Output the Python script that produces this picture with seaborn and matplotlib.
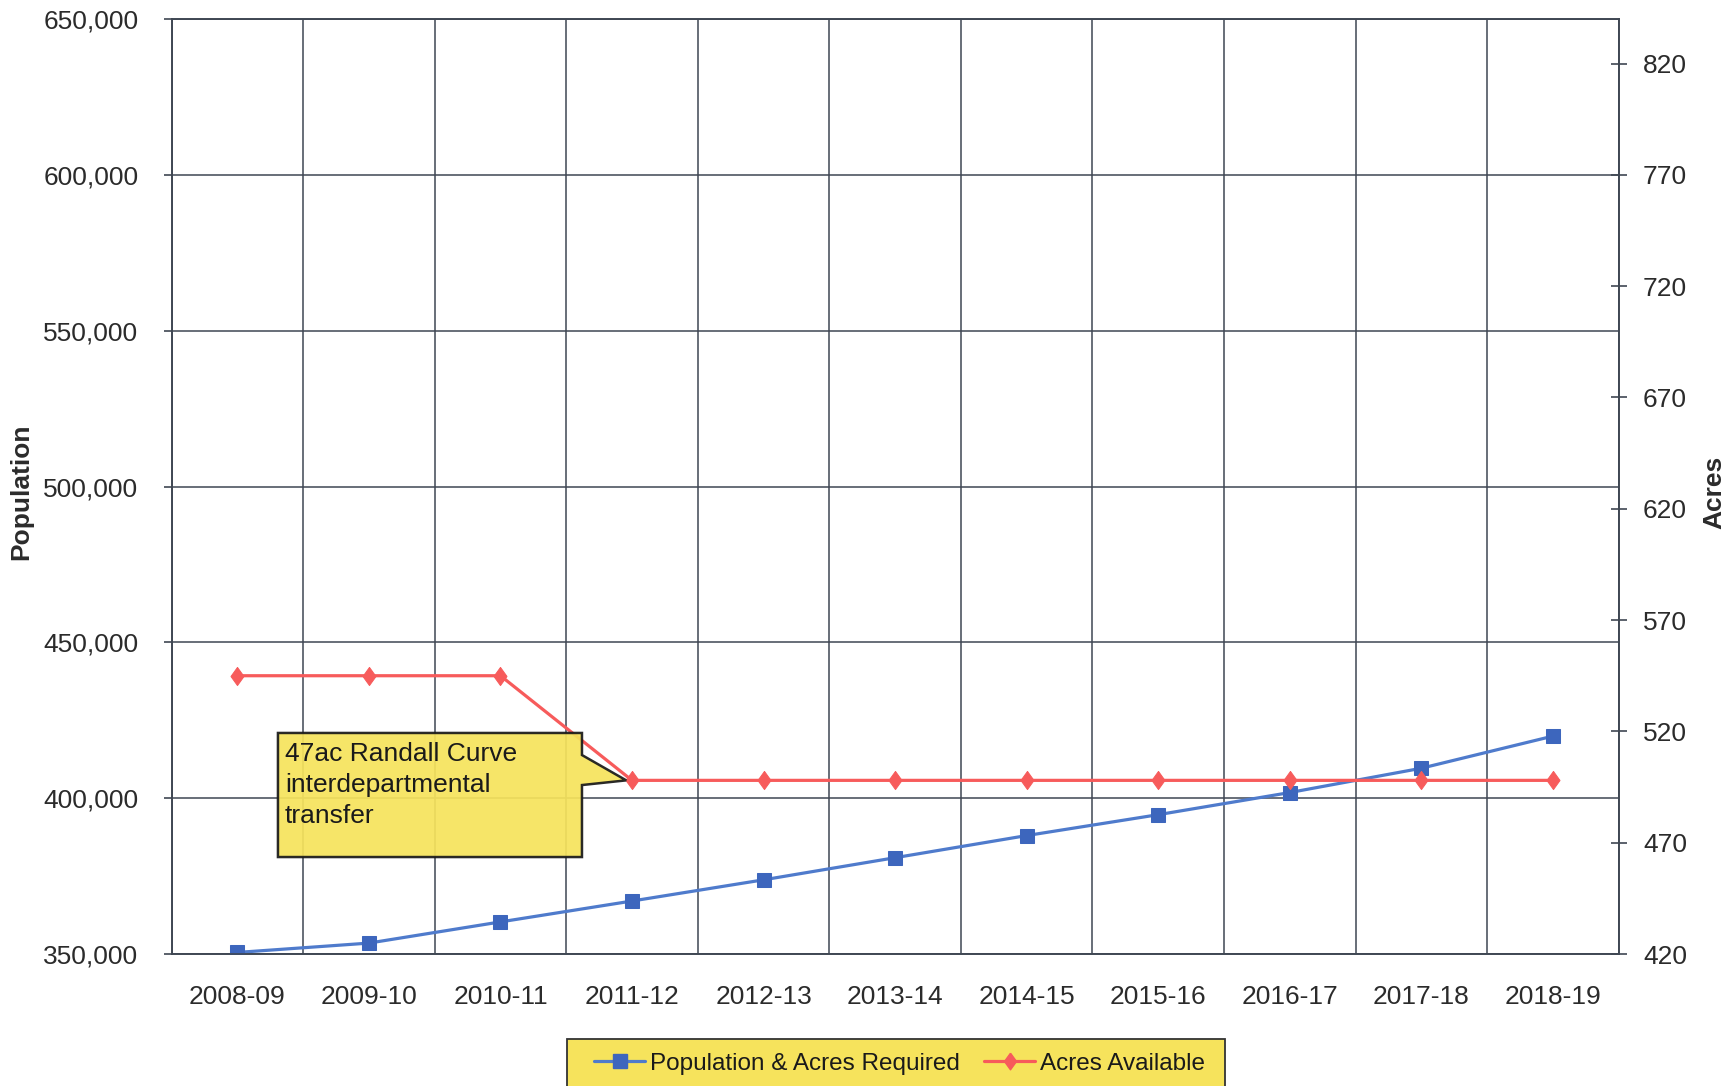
import numpy as np
import pandas as pd
import matplotlib
matplotlib.use("Agg")
import matplotlib.pyplot as plt
import seaborn as sns
from matplotlib.patches import Polygon, Rectangle
from matplotlib.ticker import FuncFormatter, FixedLocator
from matplotlib.lines import Line2D

# ---- data ----
years = ["2008-09", "2009-10", "2010-11", "2011-12", "2012-13", "2013-14",
         "2014-15", "2015-16", "2016-17", "2017-18", "2018-19"]
population = [350500, 353500, 360300, 367000, 373800, 380900,
              388000, 394700, 401800, 409600, 419900]
acres_available = [545, 545, 545, 498, 498, 498, 498, 498, 498, 498, 498]
pop_ticks = [350000, 400000, 450000, 500000, 550000, 600000, 650000]
acre_ticks = [420, 470, 520, 570, 620, 670, 720, 770, 820]
note_text = "47ac Randall Curve\ninterdepartmental\ntransfer"
series_names = ["Population & Acres Required", "Acres Available"]

df = pd.DataFrame({"idx": np.arange(len(years)), "year": years,
                   "population": population, "acres": acres_available})

# ---- style ----
sns.set_theme(style="white")
plt.rcParams['font.family'] = ['Liberation Sans', 'DejaVu Sans']

GRID = "#3f4753"
TXT = "#2b2b2b"
BLUE_LINE = "#4f7bcc"
BLUE_MARK = "#3d66bd"
RED = "#f75b5b"
YELLOW = "#f6e35c"
DIAMOND = [(0, 1), (0.72, 0), (0, -1), (-0.72, 0), (0, 1)]

fig = plt.figure(figsize=(17.36, 10.86), dpi=100)
ax = fig.add_axes([171.6 / 1736, (1086 - 954) / 1086, 1447 / 1736, 935 / 1086])
ax2 = ax.twinx()

sns.lineplot(data=df, x="idx", y="population", ax=ax, color=BLUE_LINE, lw=2.3,
             marker="s", markersize=10.5, markerfacecolor=BLUE_MARK,
             markeredgecolor=BLUE_MARK, zorder=4)
sns.lineplot(data=df, x="idx", y="acres", ax=ax2, color=RED, lw=2.3,
             marker=DIAMOND, markersize=13, markerfacecolor=RED,
             markeredgecolor=RED, zorder=3)

# ---- axes ----
ax.set_xlim(-0.5, len(years) - 0.5)
ax.set_ylim(pop_ticks[0], pop_ticks[-1])
ax2.set_ylim(420, 840)

ax.set_xticks(np.arange(len(years)))
ax.set_xticklabels(years)
ax.xaxis.set_minor_locator(FixedLocator(np.arange(-0.5, len(years), 1.0)))
ax.set_yticks(pop_ticks)
ax.yaxis.set_major_formatter(FuncFormatter(lambda v, p: f"{int(v):,}"))
ax2.set_yticks(acre_ticks)

ax.tick_params(axis="x", which="major", length=0, pad=22, labelsize=19, labelcolor=TXT)
ax.tick_params(axis="x", which="minor", length=10, width=1.2, color=GRID, direction="out")
ax.tick_params(axis="y", which="major", length=6, width=1.2, color=GRID, pad=18,
               labelsize=19, labelcolor=TXT, direction="out", left=True)
ax2.tick_params(axis="y", which="major", length=11, width=1.2, color=GRID, pad=12,
                labelsize=19, labelcolor=TXT, direction="inout", right=True)

ax.grid(True, which="major", axis="y", color=GRID, lw=1.1)
ax.grid(True, which="minor", axis="x", color=GRID, lw=1.1)
ax.set_axisbelow(True)
for a in (ax, ax2):
    for s in a.spines.values():
        s.set_color(GRID)
        s.set_linewidth(1.2)
        s.set_visible(True)

ax.set_xlabel("")
ax.set_ylabel("Population", fontsize=19, fontweight="bold", color=TXT)
ax.yaxis.set_label_coords(-0.0958, 0.494)
ax2.set_ylabel("Acres", fontsize=19, fontweight="bold", color=TXT)
ax2.yaxis.set_label_coords(1.0577, 0.494)

# ---- callout annotation ----
tip_disp = ax2.transData.transform((3, acres_available[3]))
tip = ax.transAxes.inverted().transform(tip_disp)
tip = (tip[0] - 0.004, tip[1])
L, R, T, B = 0.0735, 0.2836, 0.2364, 0.1037
callout = Polygon([(L, T), (R, T), (R, 0.2128), tip, (R, 0.1807), (R, B), (L, B)],
                  closed=True, transform=ax.transAxes, facecolor=YELLOW,
                  edgecolor="#1a1a1a", lw=1.8, zorder=6, alpha=0.93)
ax2.add_patch(callout)
ax2.text(0.0784, 0.2265, note_text, transform=ax.transAxes, ha="left", va="top",
         fontsize=19, color="#1a1a1a", linespacing=1.35, zorder=7)

# ---- legend ----
if ax.get_legend():
    ax.get_legend().remove()
if ax2.get_legend():
    ax2.get_legend().remove()
box = Rectangle((567 / 1736, -0.01), 658 / 1736, 0.01 + (1086 - 1038.6) / 1086,
                transform=fig.transFigure, facecolor=YELLOW, edgecolor="#333333",
                lw=1.3, zorder=0)
fig.patches.append(box)
handles = [
    Line2D([], [], color=BLUE_LINE, lw=2.3, marker="s", markersize=9.5,
           markerfacecolor=BLUE_MARK, markeredgecolor=BLUE_MARK),
    Line2D([], [], color=RED, lw=2.3, marker=DIAMOND, markersize=12,
           markerfacecolor=RED, markeredgecolor=RED),
]
leg = fig.legend(handles, series_names, loc="center left",
                 bbox_to_anchor=(582 / 1736, (1086 - 1063.5) / 1086), ncol=2,
                 fontsize=17.5, frameon=False, handlelength=2.1,
                 handletextpad=0.2, columnspacing=1.0, borderpad=0)
for t in leg.get_texts():
    t.set_color("#1a1a1a")

fig.savefig("out.png", dpi=100, facecolor="white")
